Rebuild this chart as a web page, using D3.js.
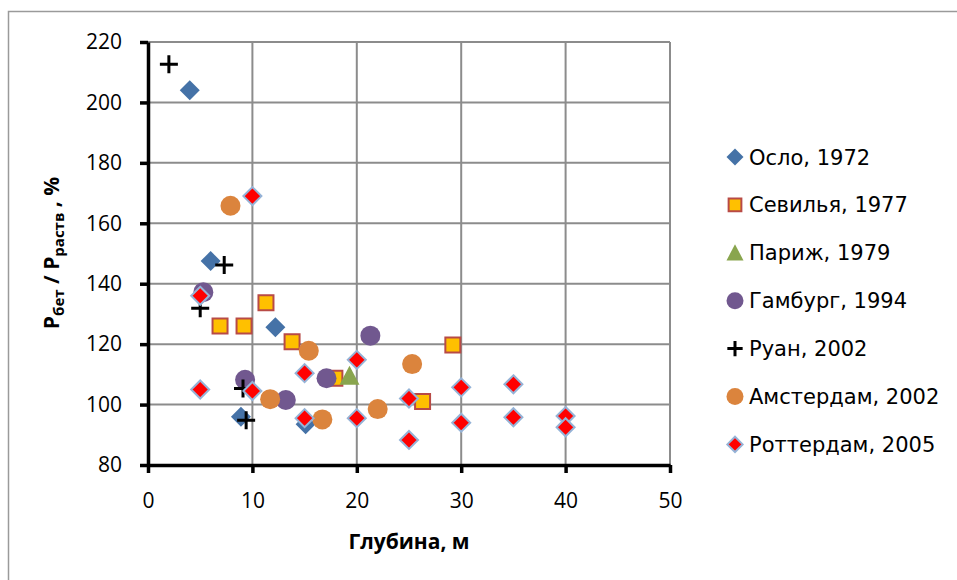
<!DOCTYPE html>
<html>
<head>
<meta charset="utf-8">
<script src="https://cdn.jsdelivr.net/npm/d3@7"></script>
<style>
    html, body { margin: 0; padding: 0; background: #fff; }
    svg { display: block; font-family: "Open Sans", "Noto Sans", sans-serif; }
</style>
</head>
<body>
<div id="chart"></div>
<script>
// Глубина (м) и отношение Pбет / Pраств (%) по сериям
const osloDepth = [4, 6, 8.9, 12.2, 15.1];
const osloRatio = [204, 147.5, 96, 125.6, 93.5];

const sevilleDepth = [6.9, 9.2, 11.3, 13.8, 17.9, 26.3, 29.2];
const sevilleRatio = [126, 126, 133.7, 120.8, 108.7, 101, 119.7];

const parisDepth = [19.3];
const parisRatio = [109.5];

const hamburgDepth = [5.3, 9.3, 13.2, 17.1, 21.3];
const hamburgRatio = [137.2, 108.2, 101.5, 108.7, 122.8];

const rouenDepth = [2, 5, 7.3, 9.1, 9.4];
const rouenRatio = [212.6, 131.9, 146.2, 105.3, 94.8];

const amsterdamDepth = [7.9, 11.7, 15.4, 16.7, 22, 25.3];
const amsterdamRatio = [165.8, 101.8, 117.8, 95.1, 98.5, 113.4];

const rotterdamDepth = [5, 5, 10, 10, 15, 15, 20, 20, 25, 25, 30, 30, 35, 35, 40, 40];
const rotterdamRatio = [136, 105, 169, 104.5, 110.4, 95.5, 114.8, 95.5, 102, 88.3, 105.7, 94, 106.7, 95.8, 96.2, 92.5];

const seriesNames = ["Осло, 1972", "Севилья, 1977", "Париж, 1979", "Гамбург, 1994", "Руан, 2002", "Амстердам, 2002", "Роттердам, 2005"];
const xTicks = [0, 10, 20, 30, 40, 50];
const yTicks = [80, 100, 120, 140, 160, 180, 200, 220];

const series = [
    {name: seriesNames[0], xs: osloDepth, ys: osloRatio, shape: "diamond", fill: "#4572A7", stroke: "none", size: 10},
    {name: seriesNames[1], xs: sevilleDepth, ys: sevilleRatio, shape: "square", fill: "#FFC000", stroke: "#B84A46", size: 7.5},
    {name: seriesNames[2], xs: parisDepth, ys: parisRatio, shape: "triangle", fill: "#89A54E", stroke: "none", size: 10},
    {name: seriesNames[3], xs: hamburgDepth, ys: hamburgRatio, shape: "circle", fill: "#71588F", stroke: "none", size: 10},
    {name: seriesNames[4], xs: rouenDepth, ys: rouenRatio, shape: "plus", fill: "none", stroke: "#000", size: 9},
    {name: seriesNames[5], xs: amsterdamDepth, ys: amsterdamRatio, shape: "circle", fill: "#DB843D", stroke: "none", size: 10},
    {name: seriesNames[6], xs: rotterdamDepth, ys: rotterdamRatio, shape: "diamond", fill: "#FF0000", stroke: "#95B3D7", size: 9},
];

function markerPath(shape, r) {
    if (shape === "diamond") {
        return `M0,${-r}L${r},0L0,${r}L${-r},0Z`;
    }
    if (shape === "square") {
        return `M${-r},${-r}H${r}V${r}H${-r}Z`;
    }
    if (shape === "triangle") {
        return `M0,${-r}L${r},${r * 0.9}L${-r},${r * 0.9}Z`;
    }
    if (shape === "plus") {
        return `M${-r},0H${r}M0,${-r}V${r}`;
    }
    return d3.symbol(d3.symbolCircle, Math.PI * r * r)();
}

function styleMarker(sel, s) {
    sel.attr("fill", s.fill)
        .attr("stroke", s.stroke)
        .attr("stroke-width", s.shape === "plus" ? 3 : 2);
}

const width = 957;
const height = 580;

const svg = d3.select("#chart")
    .append("svg")
    .attr("width", width)
    .attr("height", height);

svg.append("rect")
    .attr("x", 8.5)
    .attr("y", 11.5)
    .attr("width", 970)
    .attr("height", 600)
    .attr("fill", "#fff")
    .attr("stroke", "#9a9a9a")
    .attr("stroke-width", 1.5);

const x = d3.scaleLinear().domain([0, 50]).range([148, 670]);
const y = d3.scaleLinear().domain([80, 220]).range([465, 42]);

// сетка
svg.append("g")
    .selectAll("line")
    .data(yTicks.slice(1))
    .join("line")
    .attr("x1", x(0))
    .attr("x2", x(50))
    .attr("y1", (d) => y(d))
    .attr("y2", (d) => y(d))
    .attr("stroke", "#8c8c8c")
    .attr("stroke-width", 2);

svg.append("g")
    .selectAll("line")
    .data(xTicks.slice(1))
    .join("line")
    .attr("x1", (d) => x(d))
    .attr("x2", (d) => x(d))
    .attr("y1", y(80))
    .attr("y2", y(220))
    .attr("stroke", "#8c8c8c")
    .attr("stroke-width", 2);

// оси
const xAxis = svg.append("g")
    .attr("transform", `translate(0, ${y(80)})`)
    .call(d3.axisBottom(x).tickValues(xTicks).tickSize(8).tickPadding(20).tickSizeOuter(0));

const yAxis = svg.append("g")
    .attr("transform", `translate(${x(0)}, 0)`)
    .call(d3.axisLeft(y).tickValues(yTicks).tickSize(8).tickPadding(18).tickSizeOuter(0));

[xAxis, yAxis].forEach((g) => {
    g.select(".domain").attr("stroke", "#000").attr("stroke-width", 3.5);
    g.selectAll(".tick line").attr("stroke", "#000").attr("stroke-width", 3.5);
    g.selectAll("text")
        .attr("fill", "#000")
        .attr("font-size", 21)
        .attr("font-family", "\"Open Sans\", sans-serif");
});

// точки
series.forEach((s) => {
    const points = s.xs.map((d, i) => ({x: d, y: s.ys[i]}));
    svg.append("g")
        .selectAll("path")
        .data(points)
        .join("path")
        .attr("transform", (d) => `translate(${x(d.x)}, ${y(d.y)})`)
        .attr("d", markerPath(s.shape, s.size))
        .call(styleMarker, s);
});

// легенда
const legend = svg.append("g")
    .attr("transform", "translate(735, 157)");
series.forEach((s, i) => {
    const item = legend.append("g")
        .attr("transform", `translate(0, ${i * 47.9})`);
    item.append("path")
        .attr("d", markerPath(s.shape, s.size * 0.85))
        .call(styleMarker, s);
    item.append("text")
        .attr("x", 14)
        .attr("y", 0)
        .attr("dy", "0.36em")
        .attr("font-size", 21)
        .attr("font-family", "\"DejaVu Sans\", sans-serif")
        .attr("fill", "#000")
        .text(s.name);
});

// подписи осей
svg.append("text")
    .attr("x", 409)
    .attr("y", 549)
    .attr("text-anchor", "middle")
    .attr("font-size", 21)
    .attr("font-weight", "bold")
    .text("Глубина, м");

const yTitle = svg.append("text")
    .attr("transform", "translate(59, 253) rotate(-90)")
    .attr("text-anchor", "middle")
    .attr("font-size", 21)
    .attr("font-weight", "bold");
yTitle.append("tspan").text("Р");
yTitle.append("tspan").attr("font-size", 15).attr("dy", 5).text("бет");
yTitle.append("tspan").attr("dy", -5).text(" / Р");
yTitle.append("tspan").attr("font-size", 15).attr("dy", 5).text("раств");
yTitle.append("tspan").attr("dy", -5).text(" , %");
</script>
</body>
</html>
